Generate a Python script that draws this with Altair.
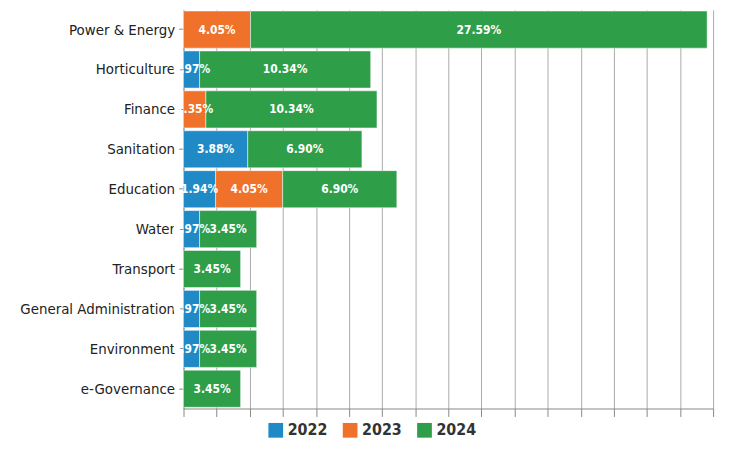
import altair as alt
import pandas as pd

categories = ["Power & Energy", "Horticulture", "Finance", "Sanitation", "Education",
              "Water", "Transport", "General Administration", "Environment", "e-Governance"]
v2022 = [0, 0.97, 0, 3.88, 1.94, 0.97, 0, 0.97, 0.97, 0]
v2023 = [4.05, 0, 1.35, 0, 4.05, 0, 0, 0, 0, 0]
v2024 = [27.59, 10.34, 10.34, 6.90, 6.90, 3.45, 3.45, 3.45, 3.45, 3.45]
years = ["2022", "2023", "2024"]
colors = ["#1f8ac6", "#f0712a", "#2f9e48"]

rows = []
for yr, vals in zip(years, [v2022, v2023, v2024]):
    for c, v in zip(categories, vals):
        if v > 0:
            rows.append({"cat": c, "year": yr, "val": v, "ord": years.index(yr),
                         "label": f"{v:.2f}%"})
df = pd.DataFrame(rows)

ticks = list(range(0, 33, 2))
xscale = alt.Scale(domain=[0, 32], nice=False)
xaxis = alt.Axis(values=ticks, labels=False, tickSize=8, tickColor="#888",
                 domainColor="#888", gridColor="#aaa", grid=True)
base = alt.Chart(df).encode(
    y=alt.Y("cat:N", sort=categories, title=None,
            scale=alt.Scale(paddingInner=0.07, paddingOuter=0.03),
            axis=alt.Axis(labelFont="DejaVu Sans Condensed", labelFontSize=15, labelColor="#222",
                          labelPadding=4, tickColor="#888", domainColor="#888", grid=False)),
)
bars = base.mark_bar(stroke="white", strokeWidth=0.5).encode(
    x=alt.X("val:Q", stack="zero", title=None, scale=xscale, axis=xaxis),
    color=alt.Color("year:N", scale=alt.Scale(domain=years, range=colors),
                    legend=alt.Legend(title=None, orient="none", legendX=85, legendY=416,
                                      direction="horizontal",
                                      symbolType="square", symbolSize=220, symbolStrokeWidth=0,
                                      labelFontSize=16, labelFont="DejaVu Sans Condensed",
                                      labelFontWeight="bold", labelColor="#333", columnPadding=14)),
    order=alt.Order("ord:Q"),
)
texts = base.mark_text(color="white", fontWeight="bold", fontSize=12,
                       font="DejaVu Sans Condensed").encode(
    x=alt.X("mid:Q", scale=xscale, axis=xaxis),
    text="label:N",
).transform_stack(stack="val", groupby=["cat"], as_=["s0", "s1"], sort=[alt.SortField("ord")]
).transform_calculate(mid="(datum.s0 + datum.s1) / 2")

chart = (bars + texts).properties(
    width=534, height=402, autosize=alt.AutoSizeParams(type="none"),
    padding={"left": 177, "top": 0, "right": 10, "bottom": 40}
).configure_view(stroke=None)

chart.save("out.html", embed_options={"renderer": "svg", "actions": False})
